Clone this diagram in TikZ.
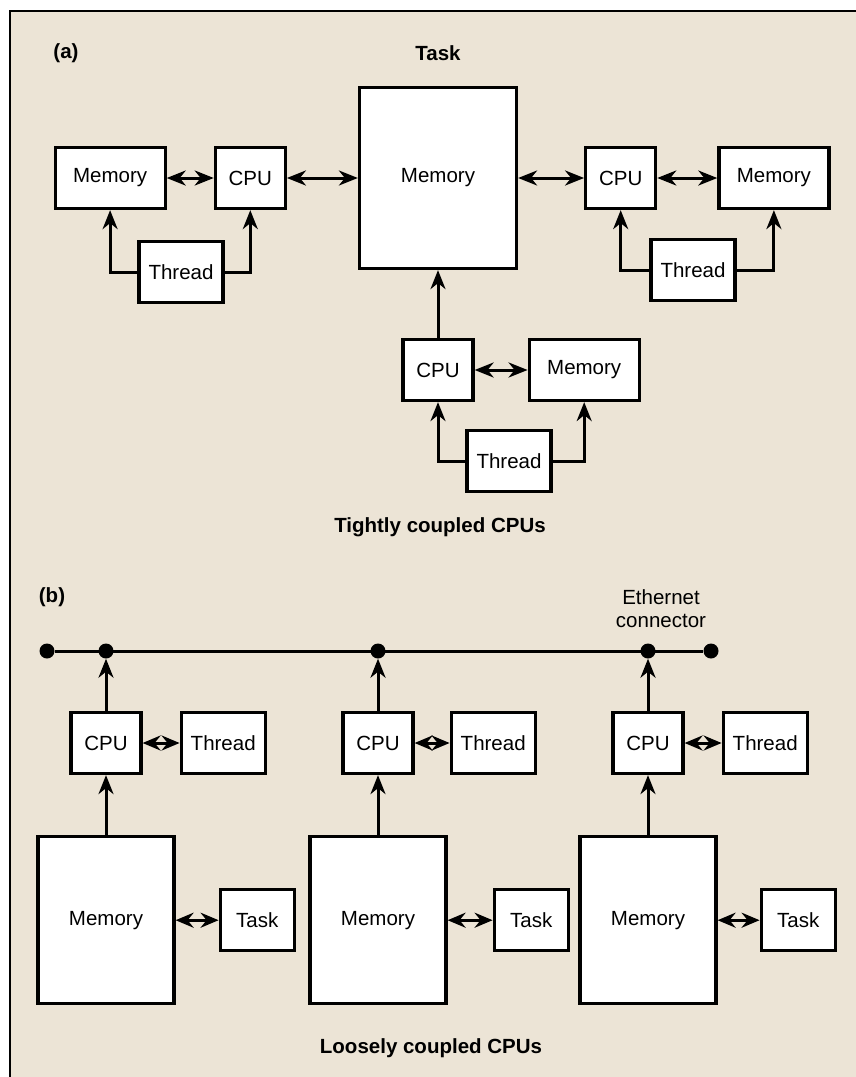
\documentclass[tikz,border=0pt]{standalone}
\usepackage{fontspec}
\setmainfont{Liberation Sans}
\usepackage{tikz}
\usetikzlibrary{arrows.meta,positioning}

\definecolor{paper}{RGB}{236,228,214}

\begin{document}
\begin{tikzpicture}[x=1pt, y=-1pt, >={Stealth[length=19pt,width=15pt,inset=6pt]},
  every node/.style={font=\fontsize{20.5}{23}\selectfont},
  box/.style={draw, fill=white, line width=3.2pt, inner sep=2pt, minimum height=61pt},
  cpubox/.style={box, minimum width=70pt},
  membox/.style={box, minimum width=110pt},
  thrbox/.style={box, minimum width=84pt},
  taskbox/.style={box, minimum width=74pt},
  lbl/.style={font=\fontsize{20.5}{23}\selectfont\bfseries},
  dot/.style={circle, fill, inner sep=0pt, minimum size=15pt},
  link/.style={line width=3pt},
  dbl/.style={link, arrows={Stealth[length=18pt,width=15pt,inset=6pt]-Stealth[length=18pt,width=15pt,inset=6pt]}}]
\useasboundingbox (0,0) rectangle (856,1077);
\fill[paper] (10,11) rectangle (856,1077);
\draw[line width=2pt] (856,11) -- (10,11) -- (10,1077);

% (a) tightly coupled
\node[lbl] (la) at (66,53) {(a)};
\node[lbl] (ltask) at (438,53) {Task};
\node[box, minimum width=157pt, minimum height=181pt] (tmem) at (438,178) {Memory};

\node[cpubox, left=71pt of tmem] (cpua) {CPU};
\node[membox, left=47pt of cpua] (mema) {Memory};
\node[thrbox] (thra) at (181,272) {Thread};

\node[cpubox, right=66pt of tmem] (cpub) {CPU};
\node[membox, right=60pt of cpub] (memb) {Memory};
\node[thrbox] (thrb) at (693,270) {Thread};

\node[cpubox] (cpuc) at (438,370) {CPU};
\node[membox, right=53pt of cpuc] (memc) {Memory};
\node[thrbox] (thrc) at (509,461) {Thread};

\node[lbl] (ltight) at (440,527) {Tightly coupled CPUs};

\draw[link, <->] (mema) -- (cpua);
\draw[link, <->] (cpua) -- (tmem);
\draw[link, <->] (tmem) -- (cpub);
\draw[link, <->] (cpub) -- (memb);
\draw[link, <->] (cpuc) -- (memc);
\draw[link, ->] (cpuc) -- (tmem);
\draw[link, ->] (thra) -| (mema);
\draw[link, ->] (thra) -| (cpua);
\draw[link, ->] (thrb) -| (cpub);
\draw[link, ->] (thrb) -| (memb);
\draw[link, ->] (thrc) -| (cpuc);
\draw[link, ->] (thrc) -| (memc);

% (b) loosely coupled
\node[lbl] (lb) at (52,597) {(b)};
\node[align=center] (leth) at (661,609) {Ethernet\\connector};

\node[dot] (e0) at (47,651) {};
\node[dot] (e1) at (106,651) {};
\node[dot] (e2) at (378,651) {};
\node[dot] (e3) at (648,651) {};
\node[dot] (e4) at (711,651) {};
\draw[link] (e0) -- (e4);

\node[cpubox] (cpu1) at (106,743) {CPU};
\node[thrbox, right=37pt of cpu1] (thr1) {Thread};
\node[box, minimum width=136pt, minimum height=167pt, below=60pt of cpu1] (mem1) {Memory};
\node[taskbox, right=43pt of mem1] (task1) {Task};

\node[cpubox] (cpu2) at (378,743) {CPU};
\node[thrbox, right=35pt of cpu2] (thr2) {Thread};
\node[box, minimum width=136pt, minimum height=167pt, below=60pt of cpu2] (mem2) {Memory};
\node[taskbox, right=45pt of mem2] (task2) {Task};

\node[cpubox] (cpu3) at (648,743) {CPU};
\node[thrbox, right=37pt of cpu3] (thr3) {Thread};
\node[box, minimum width=136pt, minimum height=167pt, below=60pt of cpu3] (mem3) {Memory};
\node[taskbox, right=42pt of mem3] (task3) {Task};

\node[lbl] (lloose) at (431,1048) {Loosely coupled CPUs};

\draw[link, ->] (cpu1) -- (e1);
\draw[link, ->] (cpu2) -- (e2);
\draw[link, ->] (cpu3) -- (e3);
\draw[link, ->] (mem1) -- (cpu1);
\draw[link, ->] (mem2) -- (cpu2);
\draw[link, ->] (mem3) -- (cpu3);
\draw[dbl] (cpu1) -- (thr1);
\draw[dbl] (cpu2) -- (thr2);
\draw[dbl] (cpu3) -- (thr3);
\draw[dbl] (mem1) -- (task1);
\draw[dbl] (mem2) -- (task2);
\draw[dbl] (mem3) -- (task3);
\end{tikzpicture}
\end{document}
